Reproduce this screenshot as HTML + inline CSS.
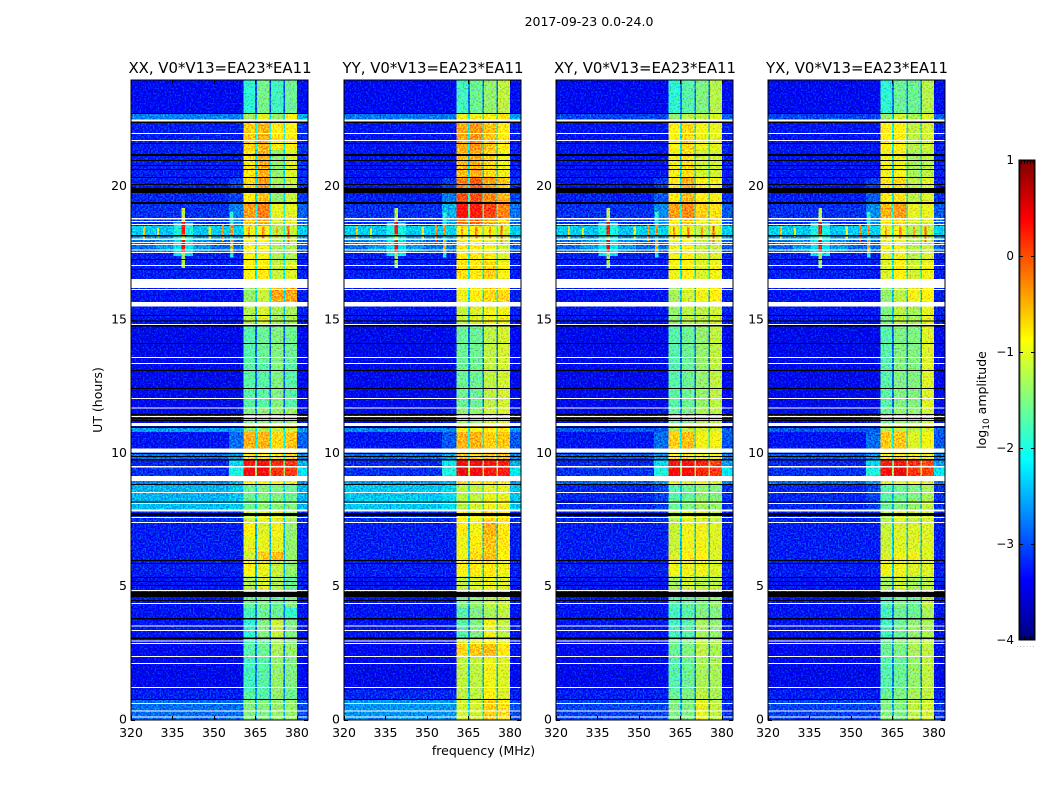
<!DOCTYPE html>
<html lang="en">
<head>
<meta charset="utf-8">
<title>2017-09-23 0.0-24.0</title>
<style>
html,body{margin:0;padding:0;background:#fff;width:1050px;height:800px;overflow:hidden}
svg{display:block}
text{font-family:"DejaVu Sans","Liberation Sans",sans-serif;fill:#000}
</style>
</head>
<body>
<svg id="chart" xmlns="http://www.w3.org/2000/svg" width="1050" height="800" viewBox="0 0 1050 800">
<defs>
<filter id="speckle" x="0" y="0" width="100%" height="100%" color-interpolation-filters="sRGB">
<feTurbulence type="fractalNoise" baseFrequency="0.6" numOctaves="1" seed="4" result="n"/>
<feColorMatrix in="n" type="matrix" values="0 0 0 0 0.5  2.4 0 0 0 -0.7  0 2.4 0 0 -0.7  0 0 0 0 1" result="m"/>
<feComposite in="SourceGraphic" in2="m" operator="arithmetic" k1="0" k2="1" k3="0.55" k4="-0.275"/>
</filter>
</defs>
<text x="589" y="26" font-size="12.5" text-anchor="middle">2017-09-23 0.0-24.0</text>
<text x="483.5" y="755" font-size="12.5" text-anchor="middle">frequency (MHz)</text>
<text transform="translate(102,400) rotate(-90)" font-size="12.5" text-anchor="middle">UT (hours)</text>
<text transform="translate(986,400) rotate(-90)" font-size="12.5" text-anchor="middle">log<tspan font-size="9" dy="3">10</tspan><tspan dy="-3"> amplitude</tspan></text>
<text x="1026" y="647" font-size="7" fill="#999" style="fill:#999" text-anchor="middle" letter-spacing="1">......</text>
<g id="panels"></g>
<g id="colorbar"></g>
</svg>
<script>
const panelNames = ['XX', 'YY', 'XY', 'YX'];
const baselineLabel = 'V0*V13=EA23*EA11';
const freqTicks = [320, 335, 350, 365, 380];
const hourTicks = [0, 5, 10, 15, 20];
const colorTicks = [-4, -3, -2, -1, 0, 1];
const freqEdges = [320, 355.5, 360.7, 364.8, 365.5, 370, 370.6, 375.1, 375.7, 380, 384];
const hourEdges = [24, 22.76, 22.52, 22.39, 21.37, 20.36, 19.76, 19.39, 18.82, 18.52, 18.15, 18.0, 17.55, 17.17, 16.54, 16.2, 15.68, 14.85, 13.4, 11.74, 11.14, 10.99, 10.8, 10.18, 9.73, 9.47, 9.0, 8.85, 8.25, 7.84, 7.43, 6.9, 6.3, 6.0, 5.4, 4.8, 4.2, 3.8, 3.11, 2.89, 2.4, 1.12, 0.75, 0];
/* per time interval: background, shoulder, band A, band B, band C, band D, gap, tail (log10 amplitude) */
const levelsXX = [
[-3.4,-3.4,-1.9,-1.55,-1.8,-1.6,-3,-3.35],[-2.75,-2.75,-1.3,-1,-1.4,-.85,-2.3,-2.5],[-3.2,-3.2,-1,-1,-1,-1,-2.3,-3.2],
[-3.25,-3.25,-.65,-.5,-.8,-.85,-2,-3.15],[-3.25,-3.25,-.8,-.5,-1.4,-1.05,-2.3,-3.15],[-3.25,-3.05,-.7,-.4,-1.3,-1.15,-2.2,-3.15],
[-3.2,-3.05,-.85,-.6,-1.4,-1.15,-2.3,-3.1],[-3.15,-2.75,-.4,-.25,-1,-1,-2,-2.9],[-3.15,-2.7,-.6,-.45,-1.1,-1.05,-2,-2.9],
[-2.35,-2.35,-.95,-.95,-1.25,-1.15,-2,-2.35],[-2.6,-2.6,-.95,-.95,-1.25,-1.15,-2,-2.6],[-2.85,-2.85,-.9,-.9,-1.3,-1.25,-2.1,-2.9],
[-3.25,-3.25,-.9,-.9,-1.25,-1.25,-2.2,-3.25],[-3.25,-3.25,-.9,-.8,-1.15,-1.05,-2.1,-3.25],[-3.25,-3.25,-.9,-.8,-1.15,-1.05,-2.1,-3.25],
[-3.3,-3.3,-1.4,-1.15,-.45,-.45,-2.3,-3.25],[-3.3,-3.3,-1.25,-1.05,-1.3,-1.3,-2.5,-3.25],[-3.45,-3.45,-1.7,-1.6,-1.5,-1.6,-2.9,-3.4],
[-3.45,-3.45,-1.7,-1.7,-1.5,-1.7,-2.9,-3.4],[-3.4,-3.3,-1.5,-1.4,-1.4,-1.4,-2.7,-3.3],[-3.2,-3.2,-.5,-.5,-.6,-.6,-2,-3.2],
[-2.6,-2.6,-1.4,-1.3,-1.2,-1.15,-2.2,-2.6],[-3.3,-2.85,-.5,-.5,-.7,-.6,-2.1,-2.9],[-2.85,-2.6,-.8,-.8,-.8,-.7,-2.1,-2.7],
[-3.2,-2.3,.3,.35,.15,.1,-1.6,-2.5],[-3.15,-2,.4,.4,.15,.1,-1.3,-2.2],[-2.7,-2.5,-.9,-.9,-.9,-.95,-2.1,-2.7],
[-2.5,-2.4,-1.6,-1.5,-1.5,-1.6,-2.3,-2.5],[-2.45,-2.4,-1.6,-1.45,-1.45,-1.5,-2.3,-2.5],[-3.15,-3.15,-1.15,-1,-1.05,-1.3,-2.4,-3.15],
[-3.25,-3.25,-.85,-1.05,-.95,-1.4,-2.5,-3.25],[-3.25,-3.25,-1,-1,-1,-1.4,-2.5,-3.25],[-3.25,-3.25,-1.1,-.65,-.55,-1.4,-2.5,-3.25],
[-3.25,-3.25,-.9,-1,-1.15,-1.4,-2.5,-3.25],[-3.3,-3.3,-1.25,-1.05,-1.25,-1.6,-2.6,-3.25],[-3.3,-3.3,-1.6,-1.5,-1.6,-1.5,-2.7,-3.3],
[-3.3,-3.3,-1.8,-1.6,-1.6,-1.9,-2.8,-3.3],[-3.3,-3.3,-1.9,-1.5,-1.15,-1.5,-2.8,-3.3],[-3.4,-3.4,-1.8,-1.6,-1.3,-1.5,-2.8,-3.3],
[-3.4,-3.4,-1.7,-1.6,-1.3,-1.4,-2.8,-3.3],[-3.45,-3.45,-1.8,-1.7,-1.4,-1.5,-2.8,-3.4],[-3.25,-3.25,-1.7,-1.7,-1.4,-1.6,-2.7,-3.25],
[-2.85,-2.85,-1.5,-1.5,-1.4,-1.4,-2.5,-3]];
const levelsYY = [
[-3.4,-3.4,-1.8,-1.6,-1.4,-1.2,-2.8,-3.35],[-2.8,-2.8,-.95,-.95,-.85,-.75,-2.1,-2.6],[-3.2,-3.2,-.7,-.7,-.7,-.7,-2.1,-3.2],
[-3.3,-3.3,-.45,-.35,-.6,-.8,-2.1,-3.25],[-3.3,-3.3,-.55,-.5,-.7,-.95,-2.3,-3.25],[-3.3,-3.1,-.25,-.05,-.4,-.6,-2,-3.15],
[-3.25,-2.8,0,0,-.3,-.5,-2,-3.05],[-3.15,-2.5,.35,.25,.05,-.25,-1.7,-2.8],[-3.15,-2.6,-.2,-.1,-.45,-.65,-1.9,-2.9],
[-2.35,-2.35,-.85,-.85,-.95,-1.05,-1.9,-2.35],[-2.6,-2.6,-.85,-.85,-.95,-1.05,-2,-2.6],[-2.8,-2.8,-.8,-.85,-.95,-1.1,-2.1,-2.9],
[-3.25,-3.25,-.8,-.8,-.8,-1.05,-2.1,-3.25],[-3.25,-3.25,-.75,-.8,-.65,-.9,-2.1,-3.25],[-3.25,-3.25,-.75,-.8,-.65,-.9,-2.1,-3.25],
[-3.3,-3.3,-.95,-.85,-.7,-.7,-2.2,-3.25],[-3.3,-3.3,-1.15,-1.05,-.95,-.95,-2.4,-3.25],[-3.45,-3.45,-1.6,-1.6,-1.2,-1.1,-2.8,-3.4],
[-3.45,-3.45,-1.6,-1.6,-1.2,-1.1,-2.8,-3.4],[-3.4,-3.3,-1.4,-1.4,-1.1,-1.05,-2.6,-3.3],[-3.2,-3.2,-.6,-.6,-.6,-.6,-2,-3.2],
[-2.7,-2.7,-.95,-.95,-.85,-.85,-2.2,-2.6],[-3.3,-2.95,-.5,-.5,-.65,-.6,-2.1,-2.95],[-2.85,-2.6,-.6,-.7,-.6,-.6,-2,-2.7],
[-3.2,-2.2,.4,.4,.3,.25,-1.5,-2.5],[-3.15,-2,.45,.4,.3,.25,-1.3,-2.2],[-2.6,-2.5,-.7,-.7,-.7,-.8,-2.1,-2.6],
[-2.4,-2.3,-1.2,-1.2,-1,-1,-2.1,-2.4],[-2.4,-2.3,-1.2,-1.1,-.95,-.95,-2.1,-2.4],[-3.15,-3.15,-.85,-.95,-.7,-.8,-2.3,-3.15],
[-3.25,-3.25,-.8,-.95,-.5,-.8,-2.4,-3.25],[-3.25,-3.25,-.95,-.8,-.6,-.8,-2.4,-3.25],[-3.25,-3.25,-.95,-.7,-.6,-.85,-2.4,-3.25],
[-3.25,-3.25,-.85,-.8,-.8,-.95,-2.4,-3.25],[-3.3,-3.3,-1.15,-1.05,-.95,-1.05,-2.5,-3.25],[-3.3,-3.3,-1.5,-1.4,-1.2,-1.15,-2.6,-3.3],
[-3.3,-3.3,-1.7,-1.5,-1.3,-1.2,-2.7,-3.3],[-3.3,-3.3,-1.7,-1.5,-.95,-1.2,-2.7,-3.3],[-3.4,-3.4,-1.05,-1.05,-.85,-1.05,-2.5,-3.3],
[-3.4,-3.4,-.7,-.6,-.55,-.8,-2.2,-3.3],[-3.45,-3.45,-1.2,-1.2,-.95,-1.05,-2.5,-3.4],[-3.2,-3.2,-1.2,-1.2,-.85,-1.05,-2.4,-3.25],
[-2.65,-2.65,-1.1,-1.1,-.65,-.75,-2.3,-3]];
const levelsXY = [
[-3.4,-3.4,-1.9,-1.7,-1.5,-1.25,-2.8,-3.35],[-3.05,-3.05,-1.4,-1.2,-1.2,-1.05,-2.4,-2.9],[-3.2,-3.2,-1,-1,-1,-1,-2.4,-3.2],
[-3.3,-3.3,-.9,-.7,-.95,-1,-2.2,-3.25],[-3.3,-3.3,-.95,-.75,-1.1,-1.1,-2.3,-3.25],[-3.3,-3.1,-.8,-.5,-.85,-.95,-2.2,-3.25],
[-3.25,-2.95,-.8,-.55,-.85,-.95,-2.2,-3.15],[-3.15,-2.7,-.4,-.3,-.65,-.75,-2,-2.95],[-3.15,-2.7,-.8,-.6,-.95,-.95,-2.1,-2.95],
[-2.35,-2.35,-.95,-.95,-1.15,-1.05,-1.9,-2.35],[-2.6,-2.6,-.95,-.95,-1.15,-1.05,-2,-2.6],[-2.85,-2.85,-.95,-.85,-1.15,-1.15,-2.2,-2.9],
[-3.25,-3.25,-.95,-.85,-1.05,-1.05,-2.2,-3.25],[-3.25,-3.25,-.95,-.85,-1.05,-.95,-2.2,-3.25],[-3.25,-3.25,-.95,-.85,-1.05,-.95,-2.2,-3.25],
[-3.3,-3.3,-1.3,-1.1,-.95,-.85,-2.4,-3.25],[-3.3,-3.3,-1.4,-1.2,-1.2,-1.1,-2.5,-3.25],[-3.45,-3.45,-1.7,-1.6,-1.4,-1.2,-2.9,-3.4],
[-3.45,-3.45,-1.7,-1.6,-1.4,-1.2,-2.9,-3.4],[-3.4,-3.3,-1.6,-1.5,-1.3,-1.2,-2.7,-3.3],[-3.2,-3.2,-.8,-.7,-.75,-.85,-2.1,-3.2],
[-2.95,-2.95,-1.3,-1.2,-1.1,-1.1,-2.3,-2.9],[-3.3,-2.85,-.65,-.55,-.95,-.95,-2.1,-2.95],[-2.95,-2.65,-.85,-.75,-.95,-.95,-2.1,-2.75],
[-3.2,-2.3,.3,.35,.2,.05,-1.6,-2.6],[-3.15,-2,.4,.4,.2,.1,-1.3,-2.2],[-2.85,-2.6,-1,-1,-.95,-1.05,-2.1,-2.75],
[-3.2,-3.05,-1.7,-1.6,-1.4,-1.5,-2.5,-3.15],[-3.2,-3.1,-1.6,-1.5,-1.3,-1.4,-2.5,-3.15],[-3.2,-3.15,-1.25,-1.05,-1.1,-1.2,-2.4,-3.2],
[-3.25,-3.25,-1.15,-.95,-.95,-1.05,-2.4,-3.25],[-3.25,-3.25,-1.15,-.95,-.95,-1.05,-2.4,-3.25],[-3.25,-3.25,-1.05,-.85,-.85,-1.05,-2.4,-3.25],
[-3.25,-3.25,-.95,-.95,-.95,-1.05,-2.4,-3.25],[-3.3,-3.3,-1.3,-1.1,-1.2,-1.2,-2.6,-3.25],[-3.3,-3.3,-1.7,-1.6,-1.5,-1.4,-2.7,-3.3],
[-3.3,-3.3,-1.8,-1.7,-1.5,-1.5,-2.8,-3.3],[-3.3,-3.3,-1.8,-1.7,-1.3,-1.4,-2.8,-3.3],[-3.4,-3.4,-1.6,-1.5,-1.2,-1.3,-2.7,-3.3],
[-3.4,-3.4,-1.6,-1.5,-1.2,-1.3,-2.7,-3.3],[-3.45,-3.45,-1.7,-1.6,-1.3,-1.3,-2.8,-3.4],[-3.25,-3.25,-1.6,-1.5,-1.2,-1.3,-2.7,-3.25],
[-3.05,-3.05,-1.5,-1.5,-1,-1.2,-2.6,-3.15]];
const levelsYX = [
[-3.4,-3.4,-1.9,-1.6,-1.6,-1.25,-2.8,-3.35],[-3.05,-3.05,-1.4,-1.1,-1.3,-1.05,-2.4,-2.9],[-3.2,-3.2,-1,-1,-1,-1,-2.4,-3.2],
[-3.3,-3.3,-.85,-.85,-1.2,-1.1,-2.2,-3.25],[-3.3,-3.3,-.95,-.95,-1.3,-1.2,-2.3,-3.25],[-3.3,-3.1,-.8,-.7,-1.2,-1.05,-2.2,-3.25],
[-3.25,-2.95,-.8,-.75,-1.2,-1.05,-2.2,-3.15],[-3.15,-2.7,-.5,-.4,-1,-1,-2,-2.95],[-3.15,-2.7,-.8,-.7,-1.1,-1.05,-2.1,-2.95],
[-2.35,-2.35,-.95,-.95,-1.25,-1.15,-2,-2.35],[-2.6,-2.6,-.95,-.95,-1.25,-1.15,-2,-2.6],[-2.85,-2.85,-.95,-.95,-1.25,-1.15,-2.2,-2.9],
[-3.25,-3.25,-1.05,-.95,-1.2,-1.05,-2.2,-3.25],[-3.25,-3.25,-1.05,-.85,-1.1,-.95,-2.2,-3.25],[-3.25,-3.25,-1.05,-.85,-1.1,-.95,-2.2,-3.25],
[-3.3,-3.3,-1.4,-1.2,-.95,-.85,-2.4,-3.25],[-3.3,-3.3,-1.5,-1.2,-1.3,-1,-2.5,-3.25],[-3.45,-3.45,-1.7,-1.5,-1.5,-1.05,-2.9,-3.4],
[-3.45,-3.45,-1.7,-1.5,-1.5,-1.05,-2.9,-3.4],[-3.4,-3.3,-1.6,-1.4,-1.4,-1.1,-2.7,-3.3],[-3.2,-3.2,-.8,-.75,-.95,-.85,-2.1,-3.2],
[-2.95,-2.95,-1.3,-1.2,-1.2,-1.1,-2.3,-2.9],[-3.3,-2.85,-.6,-.6,-1.05,-.95,-2.1,-2.95],[-2.95,-2.65,-.85,-.75,-.95,-.95,-2.1,-2.75],
[-3.2,-2.3,.25,.3,.15,0,-1.6,-2.6],[-3.15,-2,.35,.45,.15,.05,-1.3,-2.2],[-2.85,-2.6,-1,-1,-.95,-1.05,-2.1,-2.75],
[-3.2,-3.05,-1.7,-1.6,-1.5,-1.3,-2.5,-3.15],[-3.2,-3.1,-1.6,-1.5,-1.4,-1.2,-2.5,-3.15],[-3.2,-3.15,-1.25,-1.05,-1.2,-1.1,-2.4,-3.2],
[-3.25,-3.25,-1.15,-1.05,-1.05,-1.05,-2.4,-3.25],[-3.25,-3.25,-1.15,-1.05,-1.05,-1.05,-2.4,-3.25],[-3.25,-3.25,-1.05,-.95,-.95,-1.05,-2.4,-3.25],
[-3.25,-3.25,-.95,-.95,-1.05,-1.05,-2.4,-3.25],[-3.3,-3.3,-1.3,-1.1,-1.3,-1.2,-2.6,-3.25],[-3.3,-3.3,-1.7,-1.5,-1.6,-1.2,-2.7,-3.3],
[-3.3,-3.3,-1.8,-1.6,-1.6,-1.3,-2.8,-3.3],[-3.3,-3.3,-1.8,-1.6,-1.4,-1.3,-2.8,-3.3],[-3.4,-3.4,-1.6,-1.5,-1.3,-1.2,-2.7,-3.3],
[-3.4,-3.4,-1.6,-1.5,-1.3,-1.2,-2.7,-3.3],[-3.45,-3.45,-1.7,-1.6,-1.4,-1.2,-2.8,-3.4],[-3.25,-3.25,-1.6,-1.5,-1.3,-1.2,-2.7,-3.25],
[-3.05,-3.05,-1.5,-1.5,-1.2,-1.1,-2.6,-3.15]];
const panelLevels = [levelsXX, levelsYY, levelsXY, levelsYX];
/* interference features: centre frequency, centre hour, frequency span, hour span, level */
const rfiFreq  = [338.9,338.9,338.9,338.9,338.9,338.9,338.9,338.9,356.4,356.4,356.4,356.4,324.7,329.8,348.5,353.3,362.7,367.8,372.8,377];
const rfiHour  = [17.8,18.35,17.8,18.35,17.85,18.35,17.8,18.45,17.8,18.65,17.8,18.35,18.28,18.28,18.28,18.28,18.28,18.28,18.28,18.2];
const rfiFSpan = [20,20,7,7,1.3,1.3,1.1,1.1,1.2,1.2,.8,.8,.8,.8,.8,.8,.8,.8,.8,.8];
const rfiHSpan = [.45,.35,.8,.6,1.8,1.7,.45,.5,.9,.8,.45,.45,.45,.35,.45,.65,.45,.45,.45,.65];
const rfiLevel = [-2.6,-2.4,-2.2,-2,-1.3,-1.2,.45,.35,-2,-1.9,-.5,-.3,-.6,-1,-1,-.3,-.4,-.3,-.4,-.1];
const whiteFlagTop = [22.52,22.01,21.75,18.82,18.71,18.6,18.06,17.92,17.85,17.64,17.55,17.06,16.54,16.16,15.68,14.85,13.61,13.39,12.08,11.72,11.4,11.14,10.18,9.53,9.15,8.55,8.14,7.89,7.61,7.43,4.88,4.39,3.54,3.38,2.98,2.89,2.4,2.14,1.24,.64,.36,.13];
const whiteFlagEnd = [22.44,21.97,21.71,18.77,18.67,18.56,18,17.89,17.81,17.6,17.51,17.02,16.2,16.12,15.51,14.81,13.58,13.35,12.04,11.68,11.36,11.03,10.03,9.47,8.97,8.51,8.1,7.82,7.58,7.39,4.84,4.35,3.51,3.34,2.94,2.85,2.36,2.1,1.2,.6,.32,.09];
const blackFlagTop = [22.76,22.44,21.64,21.22,21,20.81,20.66,20.36,20.1,19.95,19.42,18.19,17.29,16.91,15.19,14.98,14.81,14.14,13.13,12.45,11.48,11.33,11.25,11,10.01,9.9,9.79,8.85,8.19,7.76,6,5.89,5.36,5.21,5.06,4.8,4.5,3.83,3.09,.79];
const blackFlagEnd = [22.73,22.39,21.6,21.15,20.96,20.77,20.62,20.32,20.06,19.76,19.35,18.13,17.25,16.87,15.15,14.94,14.76,14.1,13.09,12.41,11.44,11.29,11.21,10.95,9.97,9.86,9.73,8.81,8.16,7.65,5.96,5.85,5.33,5.18,5.03,4.61,4.46,3.77,3.04,.75];

const SVGNS = 'http://www.w3.org/2000/svg';
const panelLeft = [131, 344, 556, 768];
const panelTop = 80, panelBottom = 720, panelWidth = 177;
const columnSource = [0, 1, 2, 6, 3, 6, 4, 6, 5, 7];

function xScale(f, p) { return panelLeft[p] + (f - 320) * panelWidth / 64; }
function yScale(h) { return panelBottom - h * (panelBottom - panelTop) / 24; }
function jet(v) {
  const t = Math.max(0, Math.min(1, (v + 4) / 5));
  const c = (x) => Math.round(255 * Math.max(0, Math.min(1, 1.5 - Math.abs(4 * t - x))));
  return 'rgb(' + c(3) + ',' + c(2) + ',' + c(1) + ')';
}
function make(tag, attrs, parent) {
  const el = document.createElementNS(SVGNS, tag);
  for (const k in attrs) el.setAttribute(k, attrs[k]);
  parent.appendChild(el);
  return el;
}

const panelsRoot = document.getElementById('panels');
panelNames.forEach(function (name, p) {
  const panel = make('g', {}, panelsRoot);
  
  

  const heat = make('g', { filter: 'url(#speckle)', 'shape-rendering': 'crispEdges' }, panel);
  
  
  const levels = panelLevels[p];
  for (let r = 0; r < hourEdges.length - 1; r++) {
    for (let c = 0; c < freqEdges.length - 1; c++) {
      const x0 = xScale(freqEdges[c], p), x1 = xScale(freqEdges[c + 1], p);
      const y0 = yScale(hourEdges[r]), y1 = yScale(hourEdges[r + 1]);
      const cell = make('rect', { x: x0, y: y0, width: x1 - x0, height: y1 - y0, fill: jet(levels[r][columnSource[c]]) }, heat);
      
      
    }
  }
  rfiFreq.forEach(function (f, i) {
    const x0 = xScale(f - rfiFSpan[i] / 2, p), x1 = xScale(f + rfiFSpan[i] / 2, p);
    const y0 = yScale(rfiHour[i] + rfiHSpan[i] / 2), y1 = yScale(rfiHour[i] - rfiHSpan[i] / 2);
    const mark = make('rect', { x: x0, y: y0, width: x1 - x0, height: y1 - y0, fill: jet(rfiLevel[i]) }, heat);
    
    
  });

  const flags = make('g', { 'shape-rendering': 'crispEdges' }, panel);
  
  
  whiteFlagTop.forEach(function (h, i) {
    const band = make('rect', { x: panelLeft[p], y: yScale(h), width: panelWidth, height: yScale(whiteFlagEnd[i]) - yScale(h), fill: '#fff' }, flags);
    
    
  });
  blackFlagTop.forEach(function (h, i) {
    const band = make('rect', { x: panelLeft[p], y: yScale(h), width: panelWidth, height: yScale(blackFlagEnd[i]) - yScale(h), fill: '#000' }, flags);
    
    
  });

  const frame = make('rect', { x: panelLeft[p], y: panelTop, width: panelWidth, height: panelBottom - panelTop, fill: 'none', stroke: '#000', 'stroke-width': 1 }, panel);
  
  

  const title = make('text', { x: panelLeft[p] + panelWidth / 2 + 0.5, y: 73, 'font-size': 14.9, 'text-anchor': 'middle' }, panel);
  title.textContent = name + ', ' + baselineLabel;
  
  

  freqTicks.forEach(function (f) {
    const x = Math.round(xScale(f, p)) + 0.5;
    make('path', { d: 'M' + x + ' ' + panelBottom + 'v-4M' + x + ' ' + panelTop + 'v4', stroke: '#000', 'stroke-width': 1, fill: 'none' }, panel);
    const label = make('text', { x: xScale(f, p), y: 737, 'font-size': 12.5, 'text-anchor': 'middle' }, panel);
    label.textContent = String(f);
    
    
  });
  hourTicks.forEach(function (h) {
    const y = Math.round(yScale(h)) + 0.5;
    const xr = panelLeft[p] + panelWidth;
    make('path', { d: 'M' + panelLeft[p] + ' ' + y + 'h4M' + xr + ' ' + y + 'h-4', stroke: '#000', 'stroke-width': 1, fill: 'none' }, panel);
    const label = make('text', { x: panelLeft[p] - 4, y: yScale(h) + 3.5, 'font-size': 12.5, 'text-anchor': 'end' }, panel);
    label.textContent = String(h);
    
    
  });
});

/* colour bar */
const bar = document.getElementById('colorbar');
const barX = 1019, barW = 16, barTop = 160, barBottom = 640;
function cScale(v) { return barBottom - (v + 4) * (barBottom - barTop) / 5; }
const barFill = make('g', { 'shape-rendering': 'crispEdges' }, bar);


for (let y = barTop; y < barBottom; y += 2) {
  const v = -4 + (barBottom - y - 1) * 5 / (barBottom - barTop);
  make('rect', { x: barX, y: y, width: barW, height: 2, fill: jet(v) }, barFill);
}
make('rect', { x: barX, y: barTop, width: barW, height: barBottom - barTop, fill: 'none', stroke: '#000', 'stroke-width': 1 }, bar);
make('rect', { x: barX + 1, y: barTop + 1, width: barW - 2, height: barBottom - barTop - 2, fill: 'none', stroke: '#000', 'stroke-width': 0.6 }, bar);
colorTicks.forEach(function (v) {
  const y = Math.round(cScale(v)) + 0.5;
  if (v > -4 && v < 1) {
    make('path', { d: 'M' + barX + ' ' + y + 'h4M' + (barX + barW) + ' ' + y + 'h-4', stroke: '#000', fill: 'none' }, bar);
  } else {
    const d = v === 1 ? 4 : -4;
    const y0 = v === 1 ? barTop : barBottom;
    for (let i = 2; i < barW; i += 3) {
      make('path', { d: 'M' + (barX + i + 0.5) + ' ' + y0 + 'v' + d, stroke: '#000', fill: 'none' }, bar);
    }
  }
  const label = make('text', { x: barX - 5, y: cScale(v) + 4, 'font-size': 12, 'text-anchor': 'end' }, bar);
  label.textContent = (v < 0 ? '\u2212' + Math.abs(v) : String(v));
  
  
});
</script>
</body>
</html>
